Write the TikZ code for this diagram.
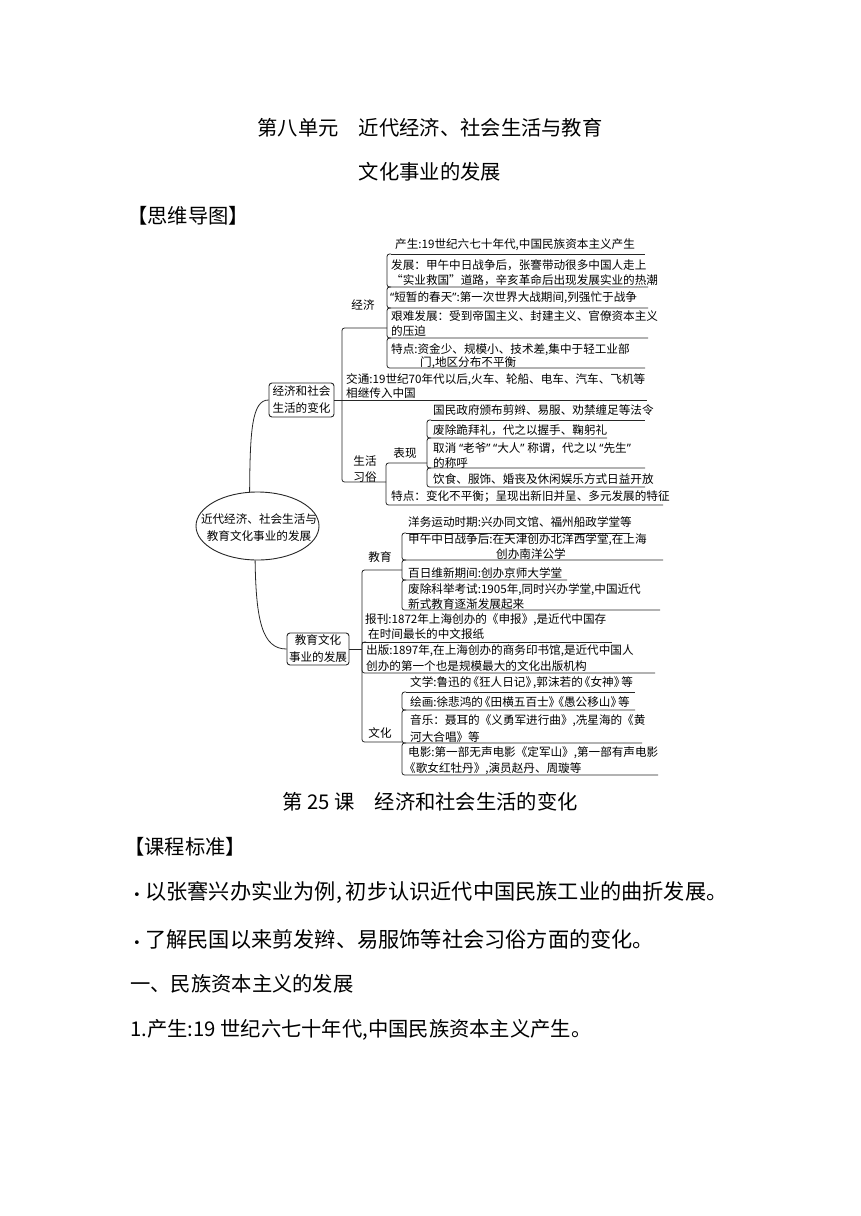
\documentclass[tikz,border=0pt]{standalone}
\usepackage{fontspec}
\setmainfont{Noto Sans CJK SC}
\newfontfamily\qfont{Noto Sans}
\newfontfamily\dotfont{DejaVu Sans}
\usetikzlibrary{shapes.geometric}
\newcommand\qo{{\qfont “}}
\newcommand\qc{{\qfont ”}}
\newcommand\lbk{\makebox[7.7pt][r]{《}}
\newcommand\rbk{\makebox[7.7pt][l]{》}}
\newcommand\bul{\makebox[12pt][l]{\fontsize{13}{13}\selectfont\dotfont •}}
\newcommand\brkitem[4]{\draw[brk] (#1+4,#2) -- (#1,#2) -- (#1,#3) -- (#4,#3);}
\begin{document}
\begin{tikzpicture}[x=1pt,y=-1pt,
  mm/.style={anchor=west, inner sep=0pt, font=\fontsize{11.6}{14}\selectfont},
  lbl/.style={inner sep=0pt, align=center, font=\fontsize{11.6}{16}\selectfont},
  big/.style={inner sep=0pt, font=\fontsize{20.3}{24}\selectfont},
  bigl/.style={big, anchor=west},
  body/.style={anchor=west, inner sep=0pt, font=\fontsize{21.2}{24}\selectfont},
  ln/.style={line width=0.8pt, draw=black!85},
  brk/.style={ln, rounded corners=2.5pt},
  bx/.style={draw=black!85, line width=0.9pt, rounded corners=3pt, inner sep=0pt, align=center, font=\fontsize{11.6}{17}\selectfont}]
\fill[white] (0,0) rectangle (860,1216);
\useasboundingbox (0,0) rectangle (860,1216);

% headings
\node[big] (t1) at (430,128) {第八单元　近代经济、社会生活与教育};
\node[big] (t2) at (430,172) {文化事业的发展};
\node[bigl] (t3) at (127,216) {【思维导图】};
\node[big] (t4) at (430,802) {第 25 课　经济和社会生活的变化};
\node[bigl] (t5) at (124,847) {【课程标准】};
\node[body] (t6) at (133,893) {\bul 以张謇兴办实业为例\makebox[10pt][l]{,}初步认识近代中国民族工业的曲折发展。};
\node[body] (t7) at (133,939) {\bul 了解民国以来剪发辫、易服饰等社会习俗方面的变化。};
\node[bigl] (t8) at (130,984) {一、民族资本主义的发展};
\node[bigl] (t9) at (130,1030) {1.产生:19 世纪六七十年代,中国民族资本主义产生。};

% centre and main boxes
\node[ellipse, draw=black!85, line width=0.9pt, minimum width=123pt, minimum height=68pt, inner sep=0pt] (E) at (257.5,526) {};
\node[inner sep=0pt, align=center, font=\fontsize{11.6}{17}\selectfont] (ET) at (259,527.5) {近代经济、社会生活与\\教育文化事业的发展};
\node[bx, minimum width=65pt, minimum height=34pt] (B1) at (301.5,400) {经济和社会\\生活的变化};
\node[bx, minimum width=62pt, minimum height=32pt] (B2) at (318,649) {教育文化\\事业的发展};
\draw[ln] (E.103) .. controls (250,430) and (252,400) .. (B1.west);
\draw[ln] (E.266) .. controls (256,620) and (262,649) .. (B2.west);

% ---------- upper branch ----------
\coordinate (o1t) at (342,328); \coordinate (j1) at (387,328);
\coordinate (o1b) at (342,482); \coordinate (j2) at (386,482);
\draw[brk] (j1) -- (o1t) -- (o1b) -- (j2);
\coordinate (tj) at (647,400);
\draw[ln] (B1.east) -- (tj);

\node[lbl] (Ljj) at (363,305) {经济};
\draw[ln] (391,254) -- (645,254);
\brkitem{387}{254}{287}{648}
\brkitem{387}{287}{308}{648}
\brkitem{387}{308}{338}{648}
\brkitem{387}{338}{368}{645}
\node[mm] (e1) at (395,245) {产生:19世纪六七十年代,中国民族资本主义产生};
\node[mm] (e2a) at (391,265) {发展：甲午中日战争后，张謇带动很多中国人走上};
\node[mm] (e2b) at (391,280) {“实业救国”道路，辛亥革命后出现发展实业的热潮};
\node[mm] (e3) at (390,298) {\qo 短暂的春天\qc :第一次世界大战期间,列强忙于战争};
\node[mm] (e4a) at (391,316) {艰难发展：受到帝国主义、封建主义、官僚资本主义};
\node[mm] (e4b) at (391,331) {的压迫};
\node[mm] (e5a) at (391,350) {特点:资金少、规模小、技术差,集中于轻工业部};
\node[mm] (e5b) at (420,363) {门,地区分布不平衡};
\node[mm] (jt1) at (346,380) {交通:19世纪70年代以后,火车、轮船、电车、汽车、飞机等};
\node[mm] (jt2) at (346,393) {相继传入中国};

\node[lbl] (Lsh) at (365,469) {生活\\习俗};
\coordinate (s1) at (427,463); \coordinate (s2) at (386,463);
\coordinate (s3) at (386,505); \coordinate (s4) at (663,505);
\draw[brk] (s1) -- (s2) -- (s3) -- (s4);
\node[lbl] (Lbx) at (405,453) {表现};
\draw[ln] (431,420) -- (645,420);
\brkitem{427}{420}{438}{607}
\brkitem{427}{438}{468}{645}
\brkitem{427}{468}{487}{645}
\node[mm] (b1) at (433,410) {国民政府颁布剪辫、易服、劝禁缠足等法令};
\node[mm] (b2) at (433,430) {废除跪拜礼，代之以握手、鞠躬礼};
\node[mm] (b3a) at (433,448) {取消 \qo 老爷\qc{} \qo 大人\qc{} 称谓，代之以 \qo 先生\qc};
\node[mm] (b3b) at (433,463) {的称呼};
\node[mm] (b4) at (433,479) {饮食、服饰、婚丧及休闲娱乐方式日益开放};
\node[mm] (sd) at (391,497) {特点：变化不平衡；呈现出新旧并呈、多元发展的特征};

% ---------- lower branch ----------
\coordinate (o2t) at (362,570); \coordinate (j3) at (402,570);
\coordinate (o2b) at (362,742); \coordinate (j4) at (402,742);
\coordinate (o2m) at (362,649);
\draw[brk] (j3) -- (o2t) -- (o2b) -- (j4);
\draw[ln] (B2.east) -- (o2m);
\draw[ln] (362,642) -- (612,642);
\brkitem{362}{642}{673}{655}

\node[lbl] (Ljy) at (380,557) {教育};
\draw[ln] (406,533) -- (630,533);
\brkitem{402}{533}{560}{663}
\brkitem{402}{560}{580}{567}
\brkitem{402}{580}{610}{660}
\node[mm] (y1) at (408,522) {洋务运动时期:兴办同文馆、福州船政学堂等};
\node[mm] (y2a) at (408,540) {甲午中日战争后:在天津创办北洋西学堂,在上海};
\node[mm] (y2b) at (496,554) {创办南洋公学};
\node[mm] (y3) at (408,573) {百日维新期间:创办京师大学堂};
\node[mm] (y4a) at (408,590) {废除科举考试:1905年,同时兴办学堂,中国近代};
\node[mm] (y4b) at (408,604) {新式教育逐渐发展起来};
\node[mm] (bk1) at (365,620) {报刊:1872年上海创办的《申报》,是近代中国存};
\node[mm] (bk2) at (368,634) {在时间最长的中文报纸};
\node[mm] (cb1) at (366,651) {出版:1897年,在上海创办的商务印书馆,是近代中国人};
\node[mm] (cb2) at (366,666) {创办的第一个也是规模最大的文化出版机构};

\node[lbl] (Lwh) at (380,733) {文化};
\draw[ln] (406,692) -- (635,692);
\brkitem{402}{692}{710}{635}
\brkitem{402}{710}{743}{642}
\brkitem{402}{743}{775}{658}
\node[mm] (w1) at (410,683) {文学:鲁迅的\lbk 狂人日记\rbk ,郭沫若的\lbk 女神\rbk 等};
\node[mm] (w2) at (410,702) {绘画:徐悲鸿的\lbk 田横五百士\rbk\lbk 愚公移山\rbk 等};
\node[mm] (w3a) at (410,721) {音乐：聂耳的《义勇军进行曲》,冼星海的《黄};
\node[mm] (w3b) at (410,737) {河大合唱》等};
\node[mm] (w4a) at (408,753) {电影:第一部无声电影《定军山》,第一部有声电影};
\node[mm] (w4b) at (404,769) {《歌女红牡丹》,演员赵丹、周璇等};
\end{tikzpicture}
\end{document}
